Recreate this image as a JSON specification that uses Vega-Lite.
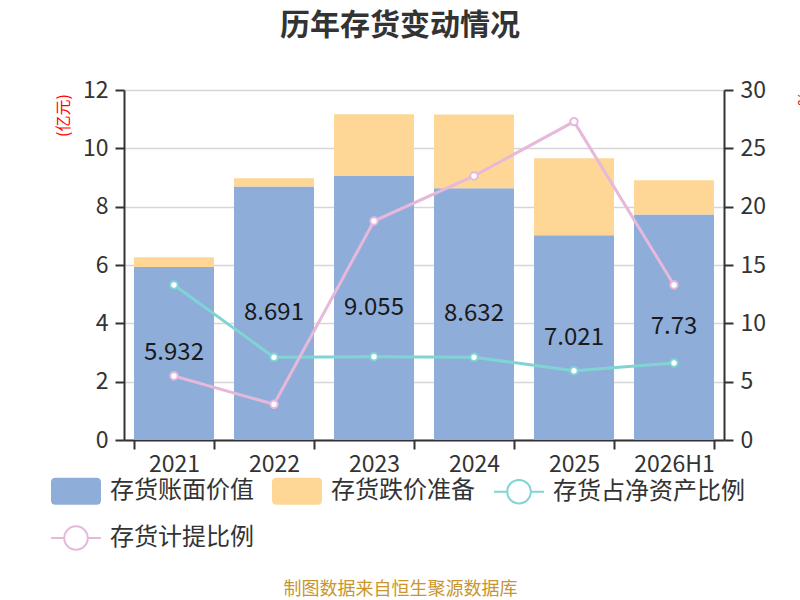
{
  "$schema": "https://vega.github.io/schema/vega-lite/v6.json",
  "description": "Inventory book value, impairment provision and ratios by year",
  "width": 600,
  "height": 350,
  "autosize": "none",
  "padding": {"left": 124, "top": 90, "right": 76, "bottom": 160},
  "background": "white",
  "title": {
    "text": "历年存货变动情况",
    "fontSize": 30,
    "fontWeight": "bold",
    "color": "#333333",
    "anchor": "middle",
    "frame": "group",
    "dx": -24,
    "offset": 38
  },
  "data": {
    "values": [
      {"year": "2021", "book": 5.932, "provision": 0.33, "netRatio": 13.29, "provRatio": 5.49},
      {"year": "2022", "book": 8.691, "provision": 0.28, "netRatio": 7.09, "provRatio": 3.06},
      {"year": "2023", "book": 9.055, "provision": 2.11, "netRatio": 7.14, "provRatio": 18.77},
      {"year": "2024", "book": 8.632, "provision": 2.53, "netRatio": 7.09, "provRatio": 22.63},
      {"year": "2025", "book": 7.021, "provision": 2.64, "netRatio": 5.94, "provRatio": 27.29},
      {"year": "2026H1", "book": 7.73, "provision": 1.18, "netRatio": 6.6, "provRatio": 13.29}
    ]
  },
  "encoding": {
    "x": {
      "field": "year",
      "type": "nominal",
      "sort": null,
      "scale": {"paddingInner": 0.2, "paddingOuter": 0.1},
      "axis": {
        "labelAngle": 0,
        "tickBand": "extent",
        "labelPadding": 4,
        "grid": false,
        "title": "制图数据来自恒生聚源数据库",
        "titleColor": "#c9952c",
        "titleFontSize": 18,
        "titleFontWeight": "normal",
        "titleX": 276,
        "titleY": 149,
        "titleAlign": "center",
        "titleBaseline": "middle"
      }
    }
  },
  "layer": [
    {
      "transform": [{"fold": ["book", "provision"], "as": ["series", "value"]}],
      "mark": {"type": "bar"},
      "encoding": {
        "y": {
          "field": "value",
          "type": "quantitative",
          "stack": "zero",
          "scale": {"domain": [0, 12]},
          "axis": {
            "orient": "left",
            "values": [0, 2, 4, 6, 8, 10, 12],
            "grid": true,
            "labelPadding": 7,
            "title": "(亿元)",
            "titleColor": "#ff0000",
            "titleFontSize": 16,
            "titleFontWeight": "normal",
            "titleAngle": 270,
            "titleX": -61,
            "titleY": 25,
            "titleAlign": "center",
            "titleBaseline": "middle"
          }
        },
        "color": {
          "field": "series",
          "type": "nominal",
          "scale": {
            "domain": ["book", "provision", "netRatio", "provRatio"],
            "range": ["#8fadd9", "#fed797", "#80d4d4", "#e6b8da"]
          },
          "legend": {
            "title": null,
            "orient": "none",
            "legendX": -74,
            "legendY": 375,
            "direction": "horizontal",
            "columns": 3,
            "columnPadding": 15,
            "rowPadding": 4,
            "padding": 0,
            "symbolSize": 2500,
            "symbolStrokeWidth": 2,
            "labelFontSize": 24,
            "labelColor": "#333333",
            "labelOffset": 8,
            "labelLimit": 300,
            "labelExpr": "datum.label === 'book' ? '存货账面价值' : datum.label === 'provision' ? '存货跌价准备' : datum.label === 'netRatio' ? '存货占净资产比例' : '存货计提比例'",
            "encode": {
              "symbols": {
                "update": {
                  "shape": {"signal": "(datum.value === 'netRatio' || datum.value === 'provRatio') ? 'M-1,0L-0.47,0M0.47,0L1,0M0.47,0A0.47,0.47,0,1,1,-0.47,0A0.47,0.47,0,1,1,0.47,0ZM0.47,0A0.47,0.47,0,1,0,-0.47,0A0.47,0.47,0,1,0,0.47,0Z' : 'M-0.82,-0.5L0.82,-0.5Q0.96,-0.5,0.96,-0.36L0.96,0.36Q0.96,0.5,0.82,0.5L-0.82,0.5Q-0.96,0.5,-0.96,0.36L-0.96,-0.36Q-0.96,-0.5,-0.82,-0.5Z'"},
                  "opacity": {"value": 1}
                }
              }
            }
          }
        },
        "order": {"field": "series", "sort": "ascending"}
      }
    },
    {
      "mark": {"type": "text", "fontSize": 24, "color": "#1a1a1a"},
      "encoding": {
        "y": {"field": "book", "type": "quantitative", "scale": {"domain": [0, 24]}, "axis": null},
        "text": {"field": "book", "type": "nominal"}
      }
    },
    {
      "transform": [{"fold": ["netRatio", "provRatio"], "as": ["series", "value"]}],
      "mark": {
        "type": "line",
        "strokeWidth": 3,
        "point": {"filled": false, "fill": "#ffffff", "size": 55, "strokeWidth": 2, "opacity": 1}
      },
      "encoding": {
        "y": {
          "field": "value",
          "type": "quantitative",
          "scale": {"domain": [0, 30]},
          "axis": {
            "orient": "right",
            "values": [0, 5, 10, 15, 20, 25, 30],
            "grid": false,
            "labelPadding": 7,
            "title": "%",
            "titleColor": "#ff0000",
            "titleFontSize": 16,
            "titleFontWeight": "normal",
            "titleAngle": 90,
            "titleX": 78,
            "titleY": 8,
            "titleAlign": "center",
            "titleBaseline": "middle"
          }
        },
        "color": {"field": "series", "type": "nominal"}
      }
    }
  ],
  "resolve": {"scale": {"y": "independent"}},
  "config": {
    "font": "Noto Sans CJK SC",
    "view": {"stroke": null},
    "axis": {
      "domainColor": "#333333",
      "domainWidth": 2,
      "tickColor": "#333333",
      "tickWidth": 2,
      "tickSize": 9,
      "labelFontSize": 23,
      "labelColor": "#333333",
      "gridColor": "#d6d6d6",
      "gridWidth": 1.5
    }
  }
}
